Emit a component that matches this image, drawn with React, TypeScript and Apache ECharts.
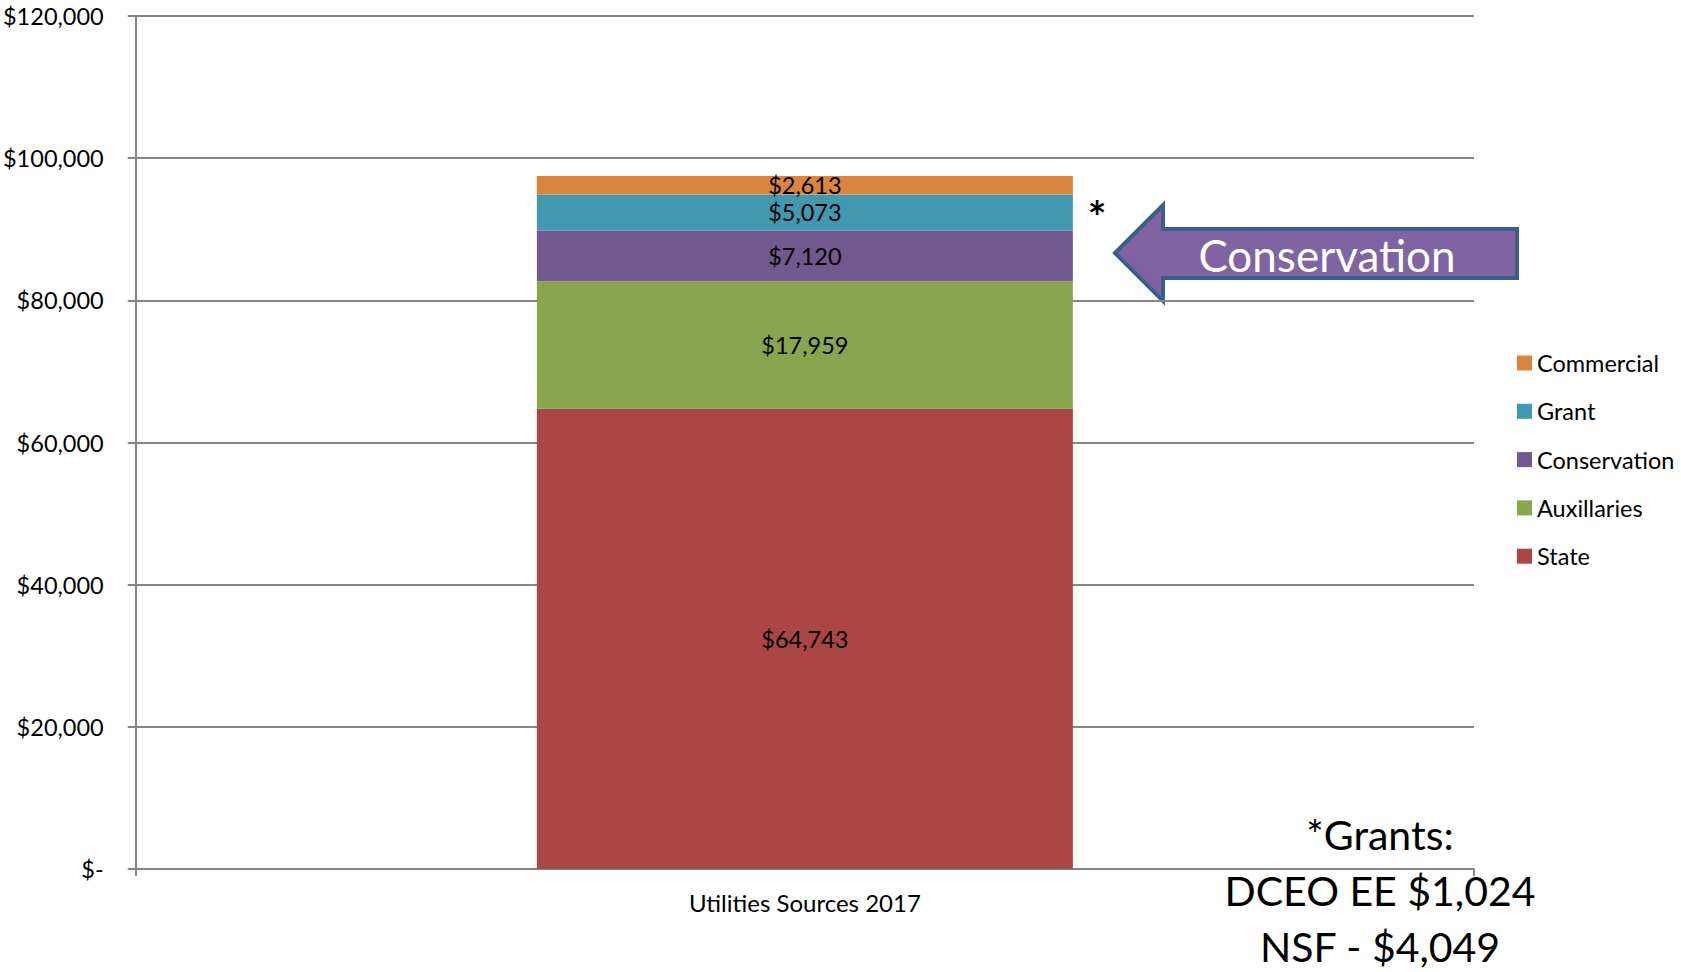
import React, { useEffect, useRef } from "react";
import * as echarts from "echarts";

const categories = ["Utilities Sources 2017"];
const seriesNames = ["State", "Auxillaries", "Conservation", "Grant", "Commercial"];
const stateValues = [64743];
const auxValues = [17959];
const conservationValues = [7120];
const grantValues = [5073];
const commercialValues = [2613];
const seriesColors = ["#AA4643", "#89A54E", "#71588F", "#4198AF", "#DB843D"];
const legendOrder = ["Commercial", "Grant", "Conservation", "Auxillaries", "State"];
const grantNotes = ["*Grants:", "DCEO EE $1,024", "NSF - $4,049"];

const FONT = "Lato, 'Open Sans', sans-serif";

const fmt = (v: number) => (v === 0 ? "$-" : "$" + v.toLocaleString("en-US"));

export default function App() {
  const ref = useRef<HTMLDivElement>(null);
  useEffect(() => {
    if (!ref.current) return;
    const chart = echarts.init(ref.current, null, { renderer: "svg" });
    const values = [stateValues, auxValues, conservationValues, grantValues, commercialValues];
    chart.setOption({
      animation: false,
      backgroundColor: "#ffffff",
      textStyle: { fontFamily: FONT },
      grid: { left: 135, right: 207, top: 16, bottom: 103, containLabel: false },
      legend: {
        data: legendOrder,
        orient: "vertical",
        left: 1512,
        top: 346,
        itemWidth: 15,
        itemHeight: 15,
        itemGap: 24.3,
        icon: "rect",
        textStyle: { fontSize: 23.5, color: "#000", fontFamily: FONT },
      },
      xAxis: {
        type: "category",
        data: categories,
        axisLine: { show: true, lineStyle: { color: "#868686", width: 2 } },
        axisTick: { show: true, length: 7, lineStyle: { color: "#868686", width: 2 } },
        axisLabel: { fontSize: 24, color: "#000", margin: 21, fontFamily: FONT },
      },
      yAxis: {
        type: "value",
        min: 0,
        max: 120000,
        interval: 20000,
        axisLine: { show: true, lineStyle: { color: "#868686", width: 2 } },
        axisTick: { show: true, length: 8, lineStyle: { color: "#868686", width: 2 } },
        splitLine: { show: true, lineStyle: { color: "#868686", width: 2 } },
        axisLabel: { fontSize: 23.5, color: "#000", margin: 32, formatter: fmt, fontFamily: FONT },
      },
      series: seriesNames.map((name, i) => ({
        name,
        type: "bar",
        stack: "total",
        barWidth: 536,
        data: values[i],
        itemStyle: { color: seriesColors[i] },
        label: {
          show: true,
          position: "inside",
          formatter: (p: any) => fmt(p.value),
          fontSize: 23.5,
          color: "#000",
          fontFamily: FONT,
        },
      })),
      graphic: [
        {
          type: "polygon",
          shape: {
            points: [
              [1115, 253],
              [1163, 205],
              [1163, 229],
              [1517, 229],
              [1517, 278],
              [1163, 278],
              [1163, 301],
            ],
          },
          style: { fill: "#8064A2", stroke: "#3B5E8C", lineWidth: 4, lineJoin: "miter" },
        },
        {
          type: "text",
          x: 1327,
          y: 255,
          style: {
            text: "Conservation",
            fill: "#fff",
            font: `44px ${FONT}`,
            textAlign: "center",
            textVerticalAlign: "middle",
          },
        },
        {
          type: "text",
          x: 1097,
          y: 216,
          style: {
            text: "*",
            fill: "#000",
            font: `bold 44px ${FONT}`,
            textAlign: "center",
            textVerticalAlign: "middle",
          },
        },
        ...grantNotes.map((t, i) => ({
          type: "text",
          x: 1380,
          y: 834 + i * 56,
          style: {
            text: t,
            fill: "#000",
            font: `41px ${FONT}`,
            textAlign: "center",
            textVerticalAlign: "middle",
          },
        })),
      ],
    });
    return () => chart.dispose();
  }, []);
  return (
    <div
      ref={ref}
      style={{ position: "fixed", left: 0, top: 0, width: 1681, height: 972, background: "#fff" }}
    />
  );
}
